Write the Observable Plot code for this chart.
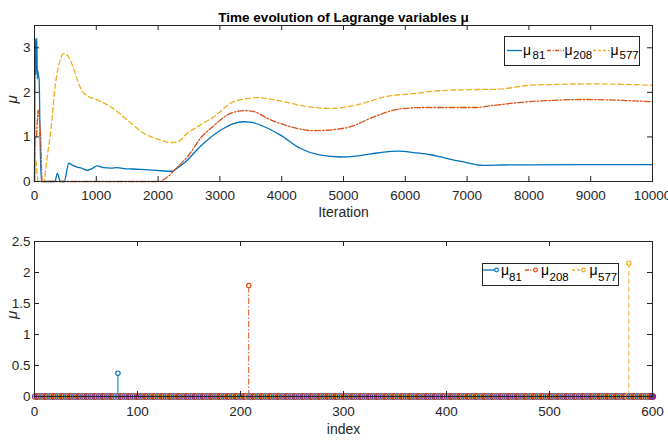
<!DOCTYPE html>
<html><head><meta charset="utf-8">
<script src="https://cdn.jsdelivr.net/npm/d3@7"></script>
<script src="https://cdn.jsdelivr.net/npm/@observablehq/plot@0.6"></script>
<style>
body{margin:0;background:#fff;font-family:"Liberation Sans",Arial,sans-serif;}
#wrap{position:relative;width:668px;height:443px;overflow:hidden;}
#legend{position:absolute;left:0;top:0;pointer-events:none;}
</style></head><body><div id="wrap"></div>
<script>
// ---- data: top panel (Iteration vs mu) ----
const it81 = [0,8,15,22,30,38,45,52,60,75,90,110,330,370,420,480,555,620,690,760,852,930,1014,1120,1230,1340,1445,1580,1715,1850,1985,2147,2230,2309,2450,2686,3010,3222,3382,3500,3700,3980,4304,4628,4951,5200,5450,5650,5869,6193,6408,6570,6900,7265,7600,8000,9000,10000];
const mu81 = [0,2.8,3.2,2.4,3.0,3.22,2.3,2.5,2.4,2.3,1.0,0,0,0.18,0,0,0.41,0.36,0.32,0.3,0.25,0.29,0.35,0.31,0.3,0.31,0.29,0.28,0.27,0.26,0.25,0.23,0.23,0.3,0.45,0.79,1.15,1.3,1.34,1.33,1.24,1.04,0.74,0.59,0.55,0.57,0.62,0.66,0.68,0.64,0.6,0.55,0.45,0.36,0.37,0.375,0.38,0.38];
const it208 = [0,10,16,30,45,60,75,97,124,2010,2150,2309,2500,2686,2900,3118,3306,3420,3550,3765,4142,4515,4800,5113,5490,5922,6300,6570,7104,7500,7977,8400,8835,9300,10000];
const mu208 = [0,0.95,1.0,1.0,1.35,1.6,1.45,1.08,0,0,0.1,0.32,0.6,0.97,1.25,1.49,1.58,1.59,1.57,1.42,1.23,1.14,1.16,1.23,1.45,1.63,1.66,1.66,1.66,1.72,1.79,1.82,1.84,1.83,1.79];
const it577 = [0,10,20,40,60,151,200,259,340,410,474,540,610,744,820,1014,1230,1500,1770,2039,2200,2300,2470,2686,2900,3222,3603,4035,4412,4790,5221,5707,6193,6408,7000,7492,8026,8500,8997,9500,10000];
const mu577 = [0,0.3,0.5,0.2,0,0,0.5,1.08,2.2,2.7,2.87,2.82,2.62,2.1,1.95,1.83,1.68,1.38,1.08,0.93,0.875,0.88,1.08,1.27,1.45,1.79,1.88,1.79,1.68,1.64,1.72,1.91,1.98,2.02,2.06,2.07,2.16,2.18,2.19,2.18,2.16];
const xTicksTop = [0,1000,2000,3000,4000,5000,6000,7000,8000,9000,10000];
const yTicksTop = [0,1,2,3];

// ---- data: bottom panel (index vs mu) ----
const stemIndex = [81, 208, 577];
const stemValue = [0.376, 1.79, 2.15];
const nIndex = 600;
const xTicksBot = [0,100,200,300,400,500,600];
const yTicksBot = [0,0.5,1,1.5,2,2.5];

const names = ["81","208","577"];
const colors = ["#0072BD","#D95319","#EDB120"];
const dashes = [null, "6,2,1.5,2", "5,3"];
const purple = "#7E2F8E";
const axisColor = "#262626";

const rows = (xs, ys) => xs.map((x, i) => ({x, y: ys[i]}));
const series = [rows(it81, mu81), rows(it208, mu208), rows(it577, mu577)];

const W = 668;
const fontStyle = {fontFamily: '"Liberation Sans", Arial, sans-serif', fontSize: "13.5px", color: axisColor, background: "white", overflow: "visible"};

// top panel
const mT = {top: 25, right: 16, bottom: 44, left: 34};
const H1 = 225;
const fw = W - mT.left - mT.right, fh1 = H1 - mT.top - mT.bottom;
const topPlot = Plot.plot({
  width: W, height: H1,
  marginTop: mT.top, marginRight: mT.right, marginBottom: mT.bottom, marginLeft: mT.left,
  style: fontStyle,
  x: {domain: [0, 10000], ticks: xTicksTop, tickSize: 0, tickPadding: 9, tickFormat: d => String(d), label: null},
  y: {domain: [0, 3.5], ticks: yTicksTop, tickSize: 0, tickPadding: 4, tickFormat: d => String(d), label: null},
  marks: [
    ...series.map((s, k) => Plot.line(s, {x: "x", y: "y", stroke: colors[k], strokeWidth: 1.3, strokeDasharray: dashes[k], curve: "monotone-x"})),
    Plot.frame({stroke: axisColor}),
    Plot.tickX(xTicksTop, {x: d => d, stroke: axisColor, insetTop: fh1 - 5}),
    Plot.tickX(xTicksTop, {x: d => d, stroke: axisColor, insetBottom: fh1 - 5}),
    Plot.tickY(yTicksTop, {y: d => d, stroke: axisColor, insetRight: fw - 5}),
    Plot.tickY(yTicksTop, {y: d => d, stroke: axisColor, insetLeft: fw - 5}),
    Plot.text(["Time evolution of Lagrange variables μ"], {frameAnchor: "top", dy: -13, fontWeight: "bold", fontSize: 13.5, fill: "#000"}),
    Plot.text(["Iteration"], {frameAnchor: "bottom", dy: 35, fontSize: 14, fill: axisColor}),
    Plot.text(["μ"], {frameAnchor: "left", dx: -22, rotate: -90, fontStyle: "italic", fontSize: 15, fill: axisColor})
  ]
});

// bottom panel
const mB = {top: 16, right: 16, bottom: 47, left: 34};
const H2 = 218;
const fh2 = H2 - mB.top - mB.bottom;
const stems = stemIndex.map((i, k) => ({i, v: stemValue[k], k}));
const zeroPalette = [purple, colors[2], purple, colors[1], purple, colors[2], purple, "#4DBEEE"];
const zeros = d3.range(1, nIndex + 1).filter(i => !stemIndex.includes(i)).map((i, j) => ({i, v: 0, c: zeroPalette[j % zeroPalette.length]}));
const bottomPlot = Plot.plot({
  width: W, height: H2,
  marginTop: mB.top, marginRight: mB.right, marginBottom: mB.bottom, marginLeft: mB.left,
  style: fontStyle,
  x: {domain: [0, 600], ticks: xTicksBot, tickSize: 0, tickPadding: 10, tickFormat: d => String(d), label: null},
  y: {domain: [0, 2.5], ticks: yTicksBot, tickSize: 0, tickPadding: 4, tickFormat: d => String(d), label: null},
  marks: [
    ...stems.map(s => Plot.ruleX([s], {x: "i", y1: 0, y2: "v", stroke: colors[s.k], strokeWidth: 1, strokeDasharray: dashes[s.k]})),
    Plot.dot(zeros, {x: "i", y: "v", r: 3, stroke: "c", strokeWidth: 1.2, fill: "c"}),
    Plot.ruleY([0], {stroke: axisColor, strokeWidth: 1}),
    Plot.dot(stems, {x: "i", y: "v", r: 2.2, stroke: s => colors[s.k], strokeWidth: 1.2, fill: "white"}),
    Plot.frame({stroke: axisColor}),
    Plot.tickX(xTicksBot, {x: d => d, stroke: axisColor, insetTop: fh2 - 5}),
    Plot.tickX(xTicksBot, {x: d => d, stroke: axisColor, insetBottom: fh2 - 5}),
    Plot.tickY(yTicksBot, {y: d => d, stroke: axisColor, insetRight: fw - 5}),
    Plot.tickY(yTicksBot, {y: d => d, stroke: axisColor, insetLeft: fw - 5}),
    Plot.text(["index"], {frameAnchor: "bottom", dy: 37, fontSize: 14, fill: axisColor}),
    Plot.text(["μ"], {frameAnchor: "left", dx: -22, rotate: -90, fontStyle: "italic", fontSize: 15, fill: axisColor})
  ]
});

const wrap = document.getElementById("wrap");
wrap.appendChild(topPlot);
wrap.appendChild(bottomPlot);

// legends (overlay svg, real text)
const ns = "http://www.w3.org/2000/svg";
const lg = document.createElementNS(ns, "svg");
lg.setAttribute("id", "legend");
lg.setAttribute("width", W); lg.setAttribute("height", 443);
wrap.appendChild(lg);
function el(tag, attrs, text) {
  const e = document.createElementNS(ns, tag);
  for (const k in attrs) if (attrs[k] != null) e.setAttribute(k, attrs[k]);
  if (text != null) e.textContent = text;
  lg.appendChild(e);
  return e;
}
function legend(box, items, lineY, muBase, subBase, markers) {
  el("rect", {x: box[0] + 0.5, y: box[1] + 0.5, width: box[2], height: box[3], fill: "white", stroke: axisColor, "stroke-width": 1});
  items.forEach((it, k) => {
    el("line", {x1: it[0], x2: it[1], y1: lineY, y2: lineY, stroke: colors[k], "stroke-width": 1.3, "stroke-dasharray": k === 0 ? null : (k === 1 ? "4,1.5,1,1.5" : "3,2")});
    if (markers) el("circle", {cx: it[1] - 1.5, cy: lineY, r: 1.8, fill: "white", stroke: colors[k], "stroke-width": 1.2});
    el("text", {x: it[2], y: muBase, "font-size": 14, fill: "#000", "font-family": '"Liberation Sans", Arial, sans-serif'}, "μ");
    el("text", {x: it[3], y: subBase, "font-size": 11.5, fill: "#000", "font-family": '"Liberation Sans", Arial, sans-serif'}, names[k]);
  });
}
legend([504, 36, 135, 29], [[507, 522, 523, 532.5], [547, 564, 564.5, 573], [593, 610, 610.5, 619.5]], 50.5, 54.5, 59, false);
legend([482, 263, 136, 22], [[483, 498, 501, 509], [525, 537, 541, 549.5], [572, 585, 589.5, 598]], 270, 275, 280.5, true);
</script></body></html>
